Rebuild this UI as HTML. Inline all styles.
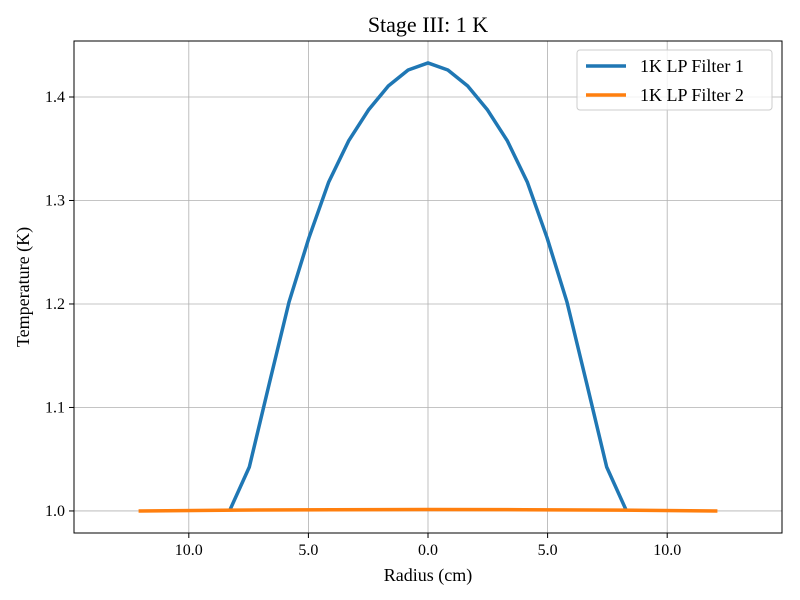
<!DOCTYPE html>
<html><head><meta charset="utf-8"><style>body{margin:0;background:#fff}svg{display:block;font-family:"Liberation Serif",serif}</style></head>
<body>
<svg id="chart" width="800" height="600"></svg>
<script>
const radii1 = [-8.3,-7.47,-6.64,-5.81,-4.98,-4.15,-3.32,-2.49,-1.66,-0.83,0,0.83,1.66,2.49,3.32,4.15,4.98,5.81,6.64,7.47,8.3];
const temps1 = [1.0,1.0425,1.1227,1.2019,1.2638,1.3179,1.3575,1.3874,1.4106,1.4261,1.4329,1.4261,1.4106,1.3874,1.3575,1.3179,1.2638,1.2019,1.1227,1.0425,1.0];
const radii2 = [-12.1,-8,-4,0,4,8,12.1];
const temps2 = [1.0,1.0008,1.0012,1.0014,1.0012,1.0008,1.0];
const xTicks = [-10,-5,0,5,10];
const xTickLabels = ["10.0","5.0","0.0","5.0","10.0"];
const yTicks = [1.0,1.1,1.2,1.3,1.4];
const yTickLabels = ["1.0","1.1","1.2","1.3","1.4"];
const L=74,R=782,T=41,B=533, xmin=-14.8,xmax=14.8,ymin=0.9787,ymax=1.4541;
const X=v=>L+(v-xmin)/(xmax-xmin)*(R-L);
const Y=v=>B-(v-ymin)/(ymax-ymin)*(B-T);
const svg=document.getElementById('chart');
const NS='http://www.w3.org/2000/svg';
function mk(tag,attrs,parent){const e=document.createElementNS(NS,tag);for(const k in attrs)e.setAttribute(k,attrs[k]);(parent||svg).appendChild(e);return e;}
xTicks.forEach((t,i)=>{
  const g=mk('line',{x1:X(t),x2:X(t),y1:T,y2:B,stroke:'#b0b0b0','stroke-width':0.8});
  
  
  mk('line',{x1:X(t),x2:X(t),y1:B,y2:B+5,stroke:'#000'});
  const tx=mk('text',{x:X(t),y:B+22,'text-anchor':'middle','font-size':16});
  tx.textContent=xTickLabels[i];
  
  
});
yTicks.forEach((t,i)=>{
  const g=mk('line',{x1:L,x2:R,y1:Y(t),y2:Y(t),stroke:'#b0b0b0','stroke-width':0.8});
  
  
  mk('line',{x1:L-5,x2:L,y1:Y(t),y2:Y(t),stroke:'#000'});
  const tx=mk('text',{x:L-9,y:Y(t)+5,'text-anchor':'end','font-size':16});
  tx.textContent=yTickLabels[i];
  
  
});
function line(xs,ys,color,name){
  const p=mk('polyline',{points:xs.map((x,i)=>X(x)+','+Y(ys[i])).join(' '),fill:'none',stroke:color,'stroke-width':3.5,'stroke-linejoin':'round'});
  
  
}
line(radii1,temps1,'#1f77b4','series-lp-filter-1');
line(radii2,temps2,'#ff7f0e','series-lp-filter-2');
const frame=mk('rect',{x:L,y:T,width:R-L,height:B-T,fill:'none',stroke:'#000','stroke-width':1});


</script>
<div style="position:absolute;left:0;top:0;width:800px;height:600px;pointer-events:none">
<svg width="800" height="600" style="font-family:'Liberation Serif',serif">
<text x="428" y="32" text-anchor="middle" font-size="22">Stage III: 1 K</text>
<text x="428" y="581" text-anchor="middle" font-size="18">Radius (cm)</text>
<text transform="translate(29,287) rotate(-90)" text-anchor="middle" font-size="18">Temperature (K)</text>
<g>
<rect x="577" y="50" width="195" height="60" rx="3" fill="#fff" fill-opacity="0.8" stroke="#ccc"/>
<line x1="586" x2="626" y1="66" y2="66" stroke="#1f77b4" stroke-width="3.5"/>
<text x="640" y="72" font-size="18">1K LP Filter 1</text>
<line x1="586" x2="626" y1="95" y2="95" stroke="#ff7f0e" stroke-width="3.5"/>
<text x="640" y="101" font-size="18">1K LP Filter 2</text>
</g>
</svg></div>
</body></html>
